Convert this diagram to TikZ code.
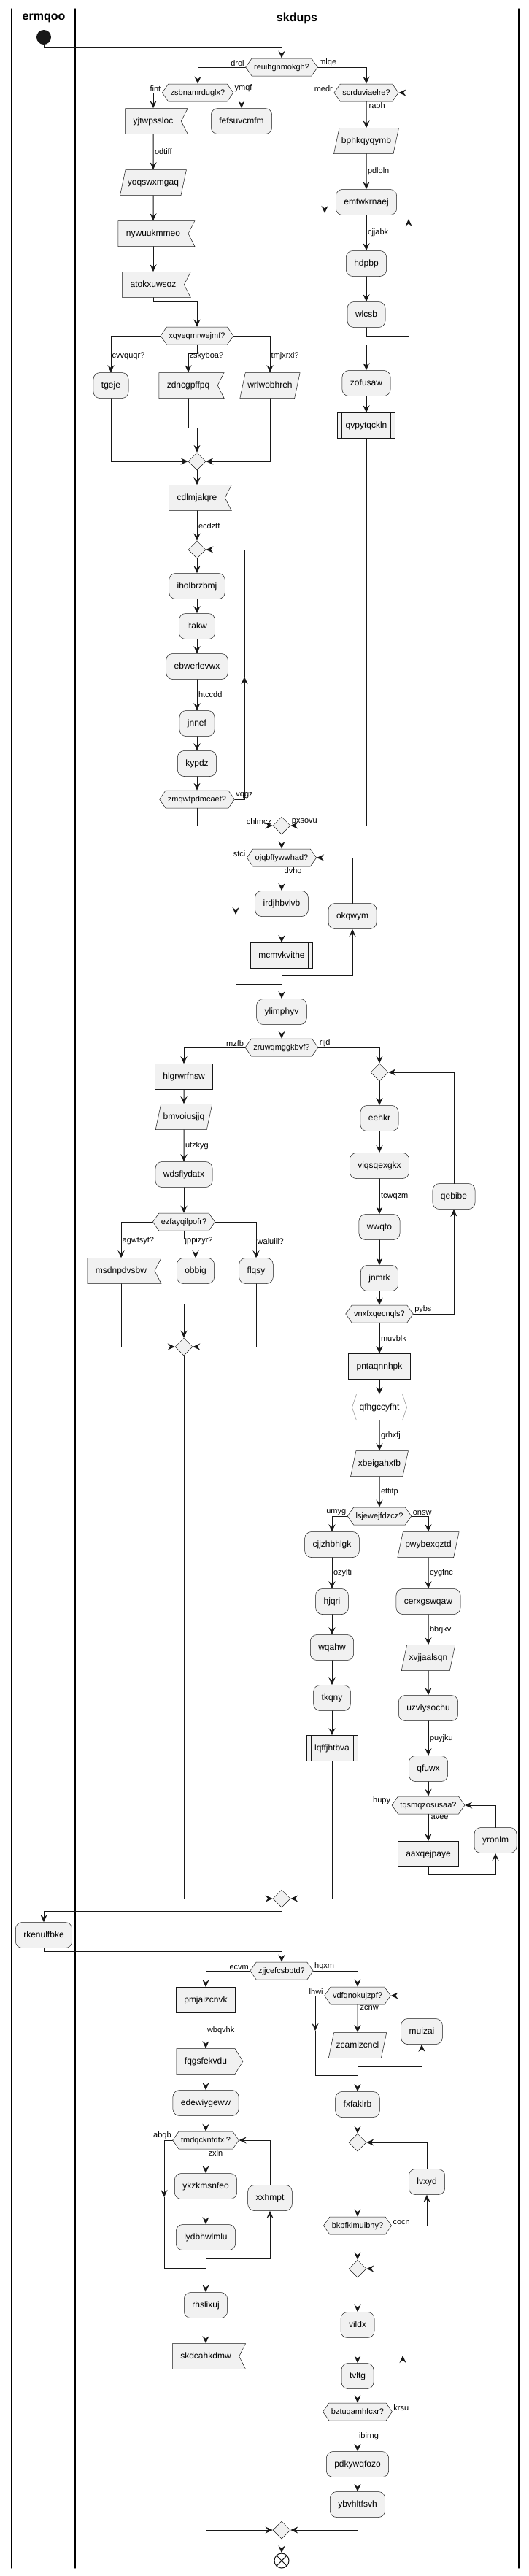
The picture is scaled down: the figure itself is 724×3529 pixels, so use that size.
\documentclass[tikz,border=0pt]{standalone}
\usepackage{fontspec}
\setmainfont{Liberation Sans}
\usetikzlibrary{arrows.meta,shapes.geometric,shapes.symbols}

\definecolor{nodefill}{HTML}{F1F1F1}
\definecolor{nodeline}{HTML}{181818}
\definecolor{lineclr}{HTML}{181818}

\begin{document}
\begin{tikzpicture}[x=1pt,y=-1pt,cap=round]

    \def\xmain{386}
    \def\ytop{12}
    \def\ybot{3518}

    % Styles
    \tikzstyle{lane}=[draw=black, line width=1.4pt]
    \tikzstyle{lanehead}=[font=\fontsize{16}{19}\selectfont\bfseries]
    \tikzstyle{nodebase}=[draw=nodeline, line width=0.5pt, fill=nodefill, minimum height=35pt, inner xsep=11pt, inner ysep=0pt, text height=8.5pt, text depth=2.5pt, font=\fontsize{12}{14}\selectfont]
    \tikzstyle{act}=[nodebase, rounded corners=9pt]
    \tikzstyle{rectbox}=[nodebase]
    \tikzstyle{para}=[nodebase, trapezium, trapezium left angle=78, trapezium right angle=102, minimum height=0pt, inner ysep=12pt, inner xsep=3pt]
    \tikzstyle{notch}=[nodebase, signal, signal from=east, signal to=nowhere, signal pointer angle=126]
    \tikzstyle{send}=[nodebase, signal, signal to=east, signal pointer angle=116]
    \tikzstyle{sub}=[rectbox, path picture={\draw[nodeline, line width=0.5pt] ([xshift=6pt]path picture bounding box.north west) -- ([xshift=6pt]path picture bounding box.south west) ([xshift=-6pt]path picture bounding box.north east) -- ([xshift=-6pt]path picture bounding box.south east);}]
    \tikzstyle{cond}=[nodebase, signal, signal to=east and west, signal pointer angle=110, minimum height=24pt, inner xsep=3pt, font=\fontsize{11}{13}\selectfont]
    \tikzstyle{merge}=[nodebase, diamond, minimum width=24pt, minimum height=24pt, inner sep=0pt]
    \tikzstyle{brk}=[minimum height=35pt, inner xsep=10pt, inner ysep=0pt, font=\fontsize{12}{14}\selectfont]
    \tikzstyle{brkline}=[draw=black!40, line width=0.6pt]
    \tikzstyle{lbl}=[inner sep=1.5pt, font=\fontsize{11}{13}\selectfont]
    \tikzstyle{flow}=[draw=lineclr, line width=1pt, -{Stealth[length=10pt,width=9pt,inset=3.5pt]}]
    \tikzstyle{startdot}=[circle, fill=lineclr, minimum size=20pt, inner sep=0pt]
    \tikzstyle{stopx}=[circle, draw=lineclr, line width=1pt, fill=white, minimum size=20pt, inner sep=0pt, path picture={\draw[line width=1pt] (path picture bounding box.north west) -- (path picture bounding box.south east) (path picture bounding box.north east) -- (path picture bounding box.south west);}]

    \path[use as bounding box, fill=white] (0,0) rectangle (724,3529);

    % swimlanes
    \draw[lane] (16,\ytop) -- (16,\ybot);
    \draw[lane] (103,\ytop) -- (103,\ybot);
    \draw[lane] (711,\ytop) -- (711,\ybot);
    \node[lanehead] (hermqoo) at (60,25) {ermqoo};
    \node[lanehead] (hskdups) at (407,25) {skdups};

    % start
    \node[startdot] (start) at (60,51) {};
    \node[cond] (d1) at (\xmain,92) {reuihgnmokgh?};

    % drol branch
    \node[cond] (d2) at (271,127) {zsbnamrduglx?};
    \node[notch] (a1) at (210,166) {yjtwpssloc};
    \node[act] (a2) at (331,166) {fefsuvcmfm};
    \node[para] (a4) at (210,250) {yoqswxmgaq};
    \node[notch] (a5) at (210,320) {nywuukmmeo};
    \node[notch] (a6) at (210,390) {atokxuwsoz};
    \node[cond] (d4) at (270,460) {xqyeqmrwejmf?};
    \node[act] (a7) at (152,528) {tgeje};
    \node[notch] (a8) at (258,528) {zdncgpffpq};
    \node[para] (a9) at (370,528) {wrlwobhreh};
    \node[merge] (m1) at (270,632) {};
    \node[notch] (a10) at (270,682) {cdlmjalqre};
    \node[merge] (m2) at (270,753) {};
    \node[act] (a11) at (270,803) {iholbrzbmj};
    \node[act] (a12) at (270,858) {itakw};
    \node[act] (a13) at (270,913) {ebwerlevwx};
    \node[act] (a14) at (270,991) {jnnef};
    \node[act] (a15) at (270,1046) {kypdz};
    \node[cond] (d5) at (270,1095) {zmqwtpdmcaet?};
    \coordinate (c5) at (335,927);

    % mlqe branch
    \node[cond] (d3) at (502,127) {scrduviaelre?};
    \node[para] (a16) at (502,193) {bphkqyqymb};
    \node[act] (a17) at (502,277) {emfwkrnaej};
    \node[act] (a18) at (502,361) {hdpbp};
    \node[act] (a19) at (502,431) {wlcsb};
    \node[act] (a21) at (502,525) {zofusaw};
    \node[sub] (a22) at (502,583) {qvpytqckln};
    \coordinate (c3) at (445,292);
    \coordinate (c19) at (560,300);

    % join
    \node[merge] (m3) at (\xmain,1131) {};
    \node[cond] (d6) at (\xmain,1175) {ojqbffywwhad?};
    \node[act] (a23) at (\xmain,1238) {irdjhbvlvb};
    \node[sub] (a24) at (\xmain,1309) {mcmvkvithe};
    \node[act] (a25) at (483,1255) {okqwym};
    \node[act] (a27) at (\xmain,1386) {ylimphyv};
    \node[cond] (d7) at (\xmain,1435) {zruwqmggkbvf?};
    \coordinate (c6) at (323,1253);

    % mzfb branch
    \node[rectbox] (a28) at (252,1475) {hlgrwrfnsw};
    \node[para] (a29) at (252,1530) {bmvoiusjjq};
    \node[act] (a30) at (252,1609) {wdsflydatx};
    \node[cond] (d8) at (252,1674) {ezfayqilpofr?};
    \node[notch] (a31) at (166,1741) {msdnpdvsbw};
    \node[act] (a32) at (268,1741) {obbig};
    \node[act] (a33) at (351,1741) {flqsy};
    \node[merge] (m5) at (252,1845) {};

    % rijd branch
    \node[merge] (m4) at (520,1469) {};
    \node[act] (a34) at (520,1532) {eehkr};
    \node[act] (a35) at (520,1597) {viqsqexgkx};
    \node[act] (a36) at (520,1681) {wwqto};
    \node[act] (a37) at (520,1751) {jnmrk};
    \node[cond] (d9) at (520,1800) {vnxfxqecnqls?};
    \node[act] (a38) at (622,1639) {qebibe};
    \node[rectbox] (a39) at (520,1872) {pntaqnnhpk};
    \node[brk] (a40) at (520,1928) {qfhgccyfht};
    \node[para] (a41) at (520,2005) {xbeigahxfb};
    \node[cond] (d10) at (520,2077) {lsjewejfdzcz?};
    \node[act] (a42) at (455,2116) {cjjzhbhlgk};
    \node[act] (a43) at (455,2194) {hjqri};
    \node[act] (a44) at (455,2257) {wqahw};
    \node[act] (a45) at (455,2326) {tkqny};
    \node[sub] (a46) at (455,2395) {lqffjhtbva};
    \node[para] (a47) at (587,2116) {pwybexqztd};
    \node[act] (a48) at (587,2194) {cerxgswqaw};
    \node[para] (a49) at (587,2271) {xvjjaalsqn};
    \node[act] (a50) at (587,2340) {uzvlysochu};
    \node[act] (a51) at (587,2423) {qfuwx};
    \node[cond] (d11) at (587,2473) {tqsmqzosusaa?};
    \node[rectbox] (a52) at (587,2540) {aaxqejpaye};
    \node[act] (a53) at (679,2521) {yronlm};
    \node[merge] (m6) at (\xmain,2601) {};

    % ermqoo lane
    \node[act] (a54) at (60,2651) {rkenulfbke};

    % last split
    \node[cond] (d12) at (\xmain,2700) {zjjcefcsbbtd?};
    \node[rectbox] (a55) at (282,2740) {pmjaizcnvk};
    \node[send] (a56) at (282,2824) {fqgsfekvdu};
    \node[act] (a57) at (282,2881) {edewiygeww};
    \node[cond] (d14) at (282,2932) {tmdqcknfdtxi?};
    \node[act] (a58) at (282,2995) {ykzkmsnfeo};
    \node[act] (a59) at (282,3065) {lydbhwlmlu};
    \node[act] (a60) at (370,3011) {xxhmpt};
    \node[act] (a61) at (282,3158) {rhslixuj};
    \node[notch] (a62) at (282,3228) {skdcahkdmw};
    \coordinate (c14) at (225,3010);
    \node[cond] (d13) at (490,2734) {vdfqnokujzpf?};
    \node[para] (a63) at (490,2802) {zcamlzcncl};
    \node[act] (a64) at (578,2783) {muizai};
    \node[act] (a65) at (490,2883) {fxfaklrb};
    \node[merge] (m8) at (490,2935) {};
    \node[cond] (d15) at (490,3049) {bkpfkimuibny?};
    \node[act] (a66) at (585,2989) {lvxyd};
    \node[merge] (m9) at (490,3108) {};
    \node[act] (a67) at (490,3185) {vildx};
    \node[act] (a68) at (490,3255) {tvltg};
    \node[cond] (d16) at (490,3304) {bztuqamhfcxr?};
    \node[act] (a69) at (490,3376) {pdkywqfozo};
    \node[act] (a70) at (490,3431) {ybvhltfsvh};
    \coordinate (c13) at (432,2782);
    \coordinate (c16) at (552,3227);
    \node[merge] (m7) at (\xmain,3466) {};
    \node[stopx] (stop) at (\xmain,3508) {};

    % bracket sides of qfhgccyfht
    \draw[brkline] ([xshift=6pt]a40.north west) -- (a40.west) -- ([xshift=6pt]a40.south west);
    \draw[brkline] ([xshift=-6pt]a40.north east) -- (a40.east) -- ([xshift=-6pt]a40.south east);

    % flows, top
    \draw[flow] (start.south) -- ++(0,4) -| (d1.north);
    \draw[flow] (d1.west) -| (d2.north);
    \draw[flow] (d1.east) -| (d3.north);
    \node[lbl, anchor=south east] (ldrol) at (d1.west) {drol};
    \node[lbl, anchor=south west] (lmlqe) at (d1.east) {mlqe};

    % flows, drol branch
    \draw[flow] (d2.west) -| (a1.north);
    \draw[flow] (d2.east) -| (a2.north);
    \node[lbl, anchor=south east] (lfint) at (d2.west) {fint};
    \node[lbl, anchor=south west] (lymqf) at (d2.east) {ymqf};
    \draw[flow] (a1.south) -- node[lbl, right] (lodtiff) {odtiff} (a4.north);
    \draw[flow] (a4.south) -- (a5.north);
    \draw[flow] (a5.south) -- (a6.north);
    \draw[flow] (a6.south) -- ++(0,6) -| (d4.north);
    \draw[flow] (d4.west) -| (a7.north);
    \draw[flow] (d4.south) -- ++(0,12) -| (a8.north);
    \draw[flow] (d4.east) -| (a9.north);
    \node[lbl, anchor=south west] (lcvvquqr) at ([yshift=16pt]a7.north) {cvvquqr?};
    \node[lbl, anchor=south west] (lzskyboa) at ([yshift=16pt]a8.north) {zskyboa?};
    \node[lbl, anchor=south west] (ltmjxrxi) at ([yshift=16pt]a9.north) {tmjxrxi?};
    \draw[flow] (a7.south) |- (m1.west);
    \draw[flow] (a9.south) |- (m1.east);
    \draw[flow] (a8.south) -- ++(0,41) -| (m1.north);
    \draw[flow] (m1.south) -- (a10.north);
    \draw[flow] (a10.south) -- node[lbl, right] (lecdztf) {ecdztf} (m2.north);
    \draw[flow] (m2.south) -- (a11.north);
    \draw[flow] (a11.south) -- (a12.north);
    \draw[flow] (a12.south) -- (a13.north);
    \draw[flow] (a13.south) -- node[lbl, right] (lhtccdd) {htccdd} (a14.north);
    \draw[flow] (a14.south) -- (a15.north);
    \draw[flow] (a15.south) -- (d5.north);
    \draw[flow] (d5.east) -| (c5);
    \draw[flow] (c5) |- (m2.east);
    \node[lbl, anchor=south west] (lvqgz) at (d5.east) {vqgz};
    \draw[flow] (d5.south) |- (m3.west);
    \node[lbl, anchor=south east] (lchlmcz) at (m3.west) {chlmcz};

    % flows, mlqe branch
    \draw[flow] (d3.south) -- (a16.north);
    \node[lbl, anchor=north west] (lrabh) at ([xshift=2pt]d3.south) {rabh};
    \node[lbl, anchor=south east] (lmedr) at (d3.west) {medr};
    \draw[flow] (a16.south) -- node[lbl, right] (lpdloln) {pdloln} (a17.north);
    \draw[flow] (a17.south) -- node[lbl, right] (lcjjabk) {cjjabk} (a18.north);
    \draw[flow] (a18.south) -- (a19.north);
    \draw[flow] (a19.south) -- ++(0,12) -| (c19);
    \draw[flow] (c19) |- (d3.east);
    \draw[flow] (d3.west) -| (c3);
    \draw[flow] (c3) -- ++(0,180) -| (a21.north);
    \draw[flow] (a21.south) -- (a22.north);
    \draw[flow] (a22.south) |- (m3.east);
    \node[lbl, anchor=south west] (lpxsovu) at (m3.east) {pxsovu};

    % flows, join
    \draw[flow] (m3.south) -- (d6.north);
    \draw[flow] (d6.south) -- (a23.north);
    \node[lbl, anchor=south east] (lstci) at (d6.west) {stci};
    \node[lbl, anchor=north west] (ldvho) at ([xshift=2pt]d6.south) {dvho};
    \draw[flow] (a23.south) -- (a24.north);
    \draw[flow] (a24.south) -- ++(0,10) -| (a25.south);
    \draw[flow] (a25.north) |- (d6.east);
    \draw[flow] (d6.west) -| (c6);
    \draw[flow] (c6) -- ++(0,95) -| (a27.north);
    \draw[flow] (a27.south) -- (d7.north);
    \draw[flow] (d7.west) -| (a28.north);
    \draw[flow] (d7.east) -| (m4.north);
    \node[lbl, anchor=south east] (lmzfb) at (d7.west) {mzfb};
    \node[lbl, anchor=south west] (lrijd) at (d7.east) {rijd};

    % flows, mzfb branch
    \draw[flow] (a28.south) -- (a29.north);
    \draw[flow] (a29.south) -- node[lbl, right] (lutzkyg) {utzkyg} (a30.north);
    \draw[flow] (a30.south) -- (d8.north);
    \draw[flow] (d8.west) -| (a31.north);
    \draw[flow] (d8.south) -- ++(0,11) -| (a32.north);
    \draw[flow] (d8.east) -| (a33.north);
    \node[lbl, anchor=south west] (lagwtsyf) at ([yshift=17pt]a31.north) {agwtsyf?};
    \node[lbl, anchor=south west] (ljppizyr) at ([xshift=-16pt, yshift=17pt]a32.north) {jppizyr?};
    \node[lbl, anchor=south west] (lwaluiil) at ([yshift=17pt]a33.north) {waluiil?};
    \draw[flow] (a31.south) |- (m5.west);
    \draw[flow] (a33.south) |- (m5.east);
    \draw[flow] (a32.south) -- ++(0,28) -| (m5.north);
    \draw[flow] (m5.south) |- (m6.west);

    % flows, rijd branch
    \draw[flow] (m4.south) -- (a34.north);
    \draw[flow] (a34.south) -- (a35.north);
    \draw[flow] (a35.south) -- node[lbl, right] (ltcwqzm) {tcwqzm} (a36.north);
    \draw[flow] (a36.south) -- (a37.north);
    \draw[flow] (a37.south) -- (d9.north);
    \draw[flow] (d9.east) -| (a38.south);
    \draw[flow] (a38.north) |- (m4.east);
    \node[lbl, anchor=south west] (lpybs) at (d9.east) {pybs};
    \draw[flow] (d9.south) -- node[lbl, right] (lmuvblk) {muvblk} (a39.north);
    \draw[flow] (a39.south) -- (a40.north);
    \draw[flow] (a40.south) -- node[lbl, right] (lgrhxfj) {grhxfj} (a41.north);
    \draw[flow] (a41.south) -- node[lbl, right] (lettitp) {ettitp} (d10.north);
    \draw[flow] (d10.west) -| (a42.north);
    \draw[flow] (d10.east) -| (a47.north);
    \node[lbl, anchor=south east] (lumyg) at (d10.west) {umyg};
    \node[lbl, anchor=south west] (lonsw) at (d10.east) {onsw};
    \draw[flow] (a42.south) -- node[lbl, right] (lozylti) {ozylti} (a43.north);
    \draw[flow] (a43.south) -- (a44.north);
    \draw[flow] (a44.south) -- (a45.north);
    \draw[flow] (a45.south) -- (a46.north);
    \draw[flow] (a46.south) |- (m6.east);
    \draw[flow] (a47.south) -- node[lbl, right] (lcygfnc) {cygfnc} (a48.north);
    \draw[flow] (a48.south) -- node[lbl, right] (lbbrjkv) {bbrjkv} (a49.north);
    \draw[flow] (a49.south) -- (a50.north);
    \draw[flow] (a50.south) -- node[lbl, right] (lpuyjku) {puyjku} (a51.north);
    \draw[flow] (a51.south) -- (d11.north);
    \draw[flow] (d11.south) -- (a52.north);
    \node[lbl, anchor=south east] (lhupy) at (d11.west) {hupy};
    \node[lbl, anchor=north west] (lavee) at ([xshift=2pt]d11.south) {avee};
    \draw[flow] (a52.south) -- ++(0,10) -| (a53.south);
    \draw[flow] (a53.north) |- (d11.east);

    % flows, ermqoo lane
    \draw[flow] (m6.south) -- ++(0,5) -| (a54.north);
    \draw[flow] (a54.south) -- ++(0,5) -| (d12.north);

    % flows, last split
    \draw[flow] (d12.west) -| (a55.north);
    \draw[flow] (d12.east) -| (d13.north);
    \node[lbl, anchor=south east] (lecvm) at (d12.west) {ecvm};
    \node[lbl, anchor=south west] (lhqxm) at (d12.east) {hqxm};
    \draw[flow] (a55.south) -- node[lbl, right] (lwbqvhk) {wbqvhk} (a56.north);
    \draw[flow] (a56.south) -- (a57.north);
    \draw[flow] (a57.south) -- (d14.north);
    \draw[flow] (d14.south) -- (a58.north);
    \node[lbl, anchor=south east] (labqb) at (d14.west) {abqb};
    \node[lbl, anchor=north west] (lzxln) at ([xshift=2pt]d14.south) {zxln};
    \draw[flow] (a58.south) -- (a59.north);
    \draw[flow] (a59.south) -- ++(0,12) -| (a60.south);
    \draw[flow] (a60.north) |- (d14.east);
    \draw[flow] (d14.west) -| (c14);
    \draw[flow] (c14) -- ++(0,97) -| (a61.north);
    \draw[flow] (a61.south) -- (a62.north);
    \draw[flow] (a62.south) |- (m7.west);
    \draw[flow] (d13.south) -- (a63.north);
    \node[lbl, anchor=south east] (llhwi) at (d13.west) {lhwi};
    \node[lbl, anchor=north west] (lzcnw) at ([xshift=2pt]d13.south) {zcnw};
    \draw[flow] (a63.south) -- ++(0,12) -| (a64.south);
    \draw[flow] (a64.north) |- (d13.east);
    \draw[flow] (d13.west) -| (c13);
    \draw[flow] (c13) -- ++(0,61) -| (a65.north);
    \draw[flow] (a65.south) -- (m8.north);
    \draw[flow] (m8.south) -- (d15.north);
    \draw[flow] (d15.east) -| (a66.south);
    \node[lbl, anchor=south west] (lcocn) at (d15.east) {cocn};
    \draw[flow] (a66.north) |- (m8.east);
    \draw[flow] (d15.south) -- (m9.north);
    \draw[flow] (m9.south) -- (a67.north);
    \draw[flow] (a67.south) -- (a68.north);
    \draw[flow] (a68.south) -- (d16.north);
    \draw[flow] (d16.east) -| (c16);
    \draw[flow] (c16) |- (m9.east);
    \node[lbl, anchor=south west] (lkrsu) at (d16.east) {krsu};
    \draw[flow] (d16.south) -- node[lbl, right] (libirng) {ibirng} (a69.north);
    \draw[flow] (a69.south) -- (a70.north);
    \draw[flow] (a70.south) |- (m7.east);
    \draw[flow] (m7.south) -- (stop.north);

\end{tikzpicture}
\end{document}
